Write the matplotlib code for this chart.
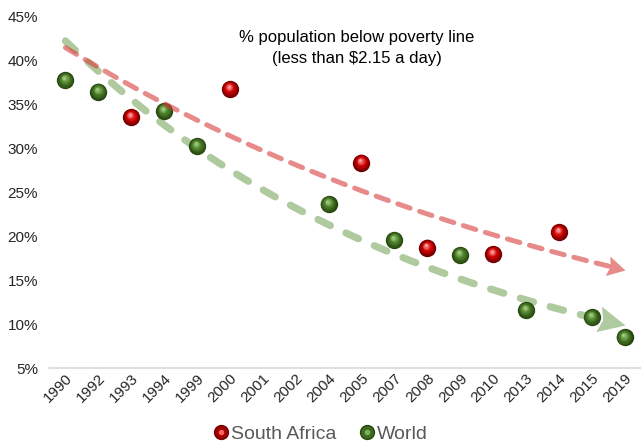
import numpy as np
import matplotlib
matplotlib.use("Agg")
from matplotlib import pyplot as plt
from matplotlib.lines import Line2D
from matplotlib.legend_handler import HandlerTuple
from matplotlib.markers import MarkerStyle
from matplotlib.path import Path
from matplotlib.transforms import ScaledTranslation, Affine2D
from matplotlib.colors import to_rgb

plt.rcParams["font.family"] = ["Liberation Sans", "DejaVu Sans"]

YEARS = ["1990", "1992", "1993", "1994", "1999", "2000", "2001", "2002", "2004",
         "2005", "2007", "2008", "2009", "2010", "2013", "2014", "2015", "2019"]

SA_YEARS = ["1993", "2000", "2005", "2008", "2010", "2014"]
SA_VALUES = [33.6, 36.8, 28.4, 18.7, 18.0, 20.5]

WORLD_YEARS = ["1990", "1992", "1994", "1999", "2004", "2007", "2009", "2013", "2015", "2019"]
WORLD_VALUES = [37.8, 36.5, 34.3, 30.3, 23.7, 19.6, 17.9, 11.6, 10.8, 8.5]

TITLE = "% population below poverty line\n(less than $2.15 a day)"


def positions(years):
    return np.array([YEARS.index(y) for y in years], dtype=float)


def exp_trend(xs, ys, grid):
    # exponential trendline fitted on category index (1-based, like a spreadsheet)
    b, a = np.polyfit(xs + 1, np.log(ys), 1)
    return np.exp(a + b * (np.asarray(grid, dtype=float) + 1))


def mix(c1, c2, t):
    c1, c2 = np.array(to_rgb(c1)), np.array(to_rgb(c2))
    return tuple(c1 + (c2 - c1) * t)


def spheres(ax, xs, ys, dark, mid, light, size=12.5):
    fig = ax.figure
    ax.plot(xs, ys, "o", ms=size, color=dark, mec="none", zorder=3)
    steps = 9
    for i in range(1, steps + 1):
        t = i / steps
        ms = size * (1 - 0.9 * t)
        off = ScaledTranslation(-0.9 * t / 72, 1.9 * t / 72, fig.dpi_scale_trans)
        col = mix(dark, mid, min(1, t * 2)) if t < 0.5 else mix(mid, light, (t - 0.5) * 2)
        ax.plot(xs, ys, "o", ms=ms, color=col, mec="none", zorder=3,
                transform=ax.transData + off)


def trend_arrow(ax, xs, ys, color, alpha, lw, dashes, head_len, head_w, z):
    # head_len / head_w in pixels
    last = len(YEARS) - 1
    px_per_cat = ax.transData.transform((1, 0))[0] - ax.transData.transform((0, 0))[0]
    x0 = last - (head_len - 2) / px_per_cat
    grid = np.linspace(0, x0, 300)
    ax.plot(grid, exp_trend(xs, ys, grid), color=color, alpha=alpha, lw=lw,
            dashes=dashes, dash_capstyle="round", solid_capstyle="round", zorder=z)
    # arrowhead aligned with the curve direction at its end
    p0 = ax.transData.transform((last - 0.3, exp_trend(xs, ys, [last - 0.3])[0]))
    p1 = ax.transData.transform((last, exp_trend(xs, ys, [last])[0]))
    ang = np.degrees(np.arctan2(p1[1] - p0[1], p1[0] - p0[0]))
    half = (head_w / 2) / head_len
    head = Path([(0, 0), (-1, half), (-0.85, 0), (-1, -half), (0, 0)])
    mk = MarkerStyle(head, transform=Affine2D().rotate_deg(ang))
    ax.plot([last], exp_trend(xs, ys, [last]), ls="", marker=mk,
            ms=2 * head_len * 0.72, color=color, alpha=alpha, mec="none", zorder=z)


fig = plt.figure(figsize=(6.41, 4.47), dpi=100)
ax = fig.add_axes([49 / 641, 1 - 368 / 447, 1 - 49 / 641, (368 - 17) / 447])
ax.set_xlim(-0.5, len(YEARS) - 0.5)
ax.set_ylim(5, 45)

sa_x = positions(SA_YEARS)
w_x = positions(WORLD_YEARS)

spheres(ax, sa_x, SA_VALUES, "#6e0000", "#d40000", "#ffb0b0")
spheres(ax, w_x, WORLD_VALUES, "#27460f", "#4a7f2a", "#a9d184")

trend_arrow(ax, sa_x, SA_VALUES, "#d83c3c", 0.6, 3.6, (2.6, 2.0), 18, 20, 4)
trend_arrow(ax, w_x, WORLD_VALUES, "#7aa760", 0.6, 5.2, (1.9, 2.4), 27, 26, 2)

ax.set_xticks(range(len(YEARS)))
ax.set_xticklabels(YEARS, rotation=45, ha="right", va="top", rotation_mode="anchor",
                   fontsize=11, color="#262626")
yt = np.arange(5, 46, 5)
ax.set_yticks(yt)
ax.set_yticklabels([f"{v}%" for v in yt], fontsize=11, color="#262626")
ax.tick_params(length=0, pad=8)
ax.tick_params(axis="x", pad=2)
for side in ["top", "right", "left"]:
    ax.spines[side].set_visible(False)
ax.spines["bottom"].set_color("#d9d9d9")
ax.spines["bottom"].set_linewidth(1.2)

ax.text(0.52, 0.962, TITLE, transform=ax.transAxes, ha="center", va="top",
        fontsize=12, color="#000000", linespacing=1.5)

sa_h = (Line2D([], [], marker="o", ls="", ms=10, color="#a00000", mec="#6e0000"),
        Line2D([], [], marker="o", ls="", ms=4, color="#ff6060", mec="none"))
w_h = (Line2D([], [], marker="o", ls="", ms=10, color="#3d6b20", mec="#27460f"),
       Line2D([], [], marker="o", ls="", ms=4, color="#7fae5a", mec="none"))
fig.legend([sa_h, w_h], ["South Africa", "World"], loc="center",
           bbox_to_anchor=(0.5, 1 - 434 / 447), ncol=2, frameon=False,
           fontsize=14, labelcolor="#595959", handletextpad=0.1, columnspacing=1.2,
           handler_map={tuple: HandlerTuple(ndivide=1, pad=0)}, handlelength=0.8)

fig.savefig("out.png", dpi=100)
